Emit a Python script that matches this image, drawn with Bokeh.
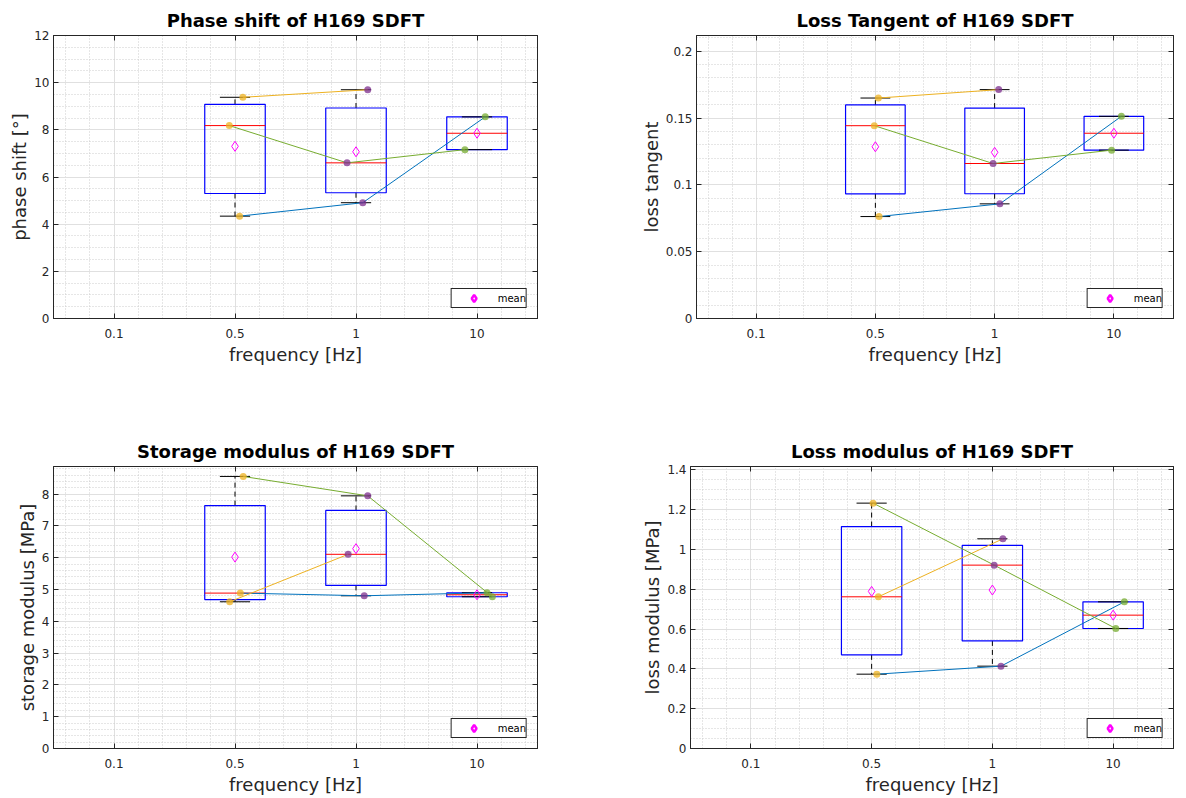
import numpy as np
from bokeh.plotting import figure
from bokeh.layouts import column, row
from bokeh.models import (FixedTicker, LinearAxis, Range1d, Legend, LegendItem,
                          CustomJSTickFormatter, ColumnDataSource)
from bokeh.embed import file_html
from bokeh.resources import INLINE

NAN = float("nan")

# ---------------- data ----------------
freq_labels = ["0.1", "0.5", "1", "10"]
freq_pos = [1, 2, 3, 4]

# specimens A (blue line), B (yellow line), C (green line); value per frequency
phase_A = [NAN, 4.34, 4.91, 8.55]
phase_B = [NAN, 9.38, 9.70, NAN]
phase_C = [NAN, 8.18, 6.60, 7.16]
phase_jit_A = [0, 0.038, 0.056, 0.068]
phase_jit_B = [0, 0.065, 0.097, 0]
phase_jit_C = [0, -0.047, -0.074, -0.100]

tand_A = [NAN, 0.0763, 0.0858, 0.1513]
tand_B = [NAN, 0.1650, 0.1713, NAN]
tand_C = [NAN, 0.1443, 0.1160, 0.1260]
tand_jit_A = [0, 0.031, 0.044, 0.063]
tand_jit_B = [0, 0.025, 0.034, 0]
tand_jit_C = [0, -0.009, -0.013, -0.019]

stor_A = [NAN, 4.888, 4.804, 4.899]
stor_B = [NAN, 4.615, 6.108, NAN]
stor_C = [NAN, 8.557, 7.947, 4.773]
stor_jit_A = [0, 0.044, 0.068, 0.083]
stor_jit_B = [0, -0.044, -0.065, 0]
stor_jit_C = [0, 0.068, 0.097, 0.127]

loss_A = [NAN, 0.3734, 0.4136, 0.7368]
loss_B = [NAN, 0.7620, 1.0534, NAN]
loss_C = [NAN, 1.2326, 0.9211, 0.6029]
loss_jit_A = [0, 0.043, 0.071, 0.093]
loss_jit_B = [0, 0.056, 0.087, 0]
loss_jit_C = [0, 0.012, 0.015, 0.022]

# ---------------- styles ----------------
FONT = "DejaVu Sans"
AX = "#262626"
LINE_COLORS = ["#0072BD", "#EDB120", "#77AC30"]      # A, B, C
POINT_COLORS = [None, "#EDB120", "#7E2F8E", "#77AC30"]  # per frequency
BOX_HALF = 0.25
CAP_HALF = 0.125


def prctile(v, p):
    n = len(v)
    pos = [(i + 0.5) / n * 100 for i in range(n)]
    if p <= pos[0]:
        return v[0]
    if p >= pos[-1]:
        return v[-1]
    for i in range(n - 1):
        if pos[i] <= p <= pos[i + 1]:
            return v[i] + (p - pos[i]) / (pos[i + 1] - pos[i]) * (v[i + 1] - v[i])


def make_panel(title, ylabel, series, jitters, y_end, y_major, y_minor,
               mb_left, mb_right, mb_top, mb_bottom):
    p = figure(width=593, height=399, output_backend="svg", toolbar_location=None,
               x_range=Range1d(0.5, 4.5), y_range=Range1d(0, y_end),
               min_border_left=mb_left, min_border_right=mb_right,
               min_border_top=mb_top, min_border_bottom=mb_bottom)
    p.background_fill_color = "white"
    p.border_fill_color = "white"
    p.outline_line_color = AX
    p.outline_line_width = 1
    p.outline_line_alpha = 1

    p.title.text = title
    p.title.text_font = FONT
    p.title.text_font_size = "18px"
    p.title.text_font_style = "bold"
    p.title.text_color = "black"
    p.title.align = "center"
    p.title.standoff = 9

    x_minor = [round(k * 0.2, 1) for k in range(3, 23) if k % 5 != 0]
    xt = FixedTicker(ticks=freq_pos, minor_ticks=x_minor)
    yt = FixedTicker(ticks=y_major, minor_ticks=y_minor)

    for ax in (p.xaxis[0], p.yaxis[0]):
        ax.major_tick_in = 5
        ax.major_tick_out = 0
        ax.minor_tick_in = 0
        ax.minor_tick_out = 0
        ax.axis_line_color = AX
        ax.major_tick_line_color = AX
        ax.major_label_text_font = FONT
        ax.major_label_text_font_size = "12px"
        ax.major_label_text_color = AX
        ax.axis_label_text_font = FONT
        ax.axis_label_text_font_size = "18px"
        ax.axis_label_text_font_style = "normal"
        ax.axis_label_text_color = AX
    p.xaxis[0].major_label_standoff = 10
    p.xaxis[0].axis_label_standoff = 3
    p.yaxis[0].major_label_standoff = 4
    p.yaxis[0].axis_label_standoff = 1
    p.xaxis[0].ticker = xt
    p.yaxis[0].ticker = yt
    p.xaxis[0].major_label_overrides = {pos: lab for pos, lab in zip(freq_pos, freq_labels)}
    p.yaxis[0].formatter = CustomJSTickFormatter(code="return String(parseFloat(tick.toFixed(4)))")
    p.xaxis[0].axis_label = "frequency [Hz]"
    p.yaxis[0].axis_label = ylabel

    # mirrored tick axes (top / right)
    blank = CustomJSTickFormatter(code="return ''")
    for ticker, side in ((xt, "above"), (yt, "right")):
        a = LinearAxis(ticker=ticker, formatter=blank, major_tick_in=5, major_tick_out=0,
                       minor_tick_in=0, minor_tick_out=0, major_label_standoff=0,
                       major_label_text_font_size="0px", axis_line_color=AX,
                       major_tick_line_color=AX)
        p.add_layout(a, side)

    for g in (p.xgrid[0], p.ygrid[0]):
        g.grid_line_color = "#e0e0e0"
        g.grid_line_width = 1
        g.minor_grid_line_color = "#cccccc"
        g.minor_grid_line_dash = "1 2"
        g.minor_grid_line_width = 1
    p.xgrid[0].ticker = xt
    p.ygrid[0].ticker = yt

    # ---- box statistics per frequency ----
    bx, q1s, meds, q3s, mins, maxs, means = [], [], [], [], [], [], []
    for i, pos in enumerate(freq_pos):
        vals = sorted(s[i] for s in series if not np.isnan(s[i]))
        if not vals:
            continue
        bx.append(pos)
        q1s.append(prctile(vals, 25))
        meds.append(prctile(vals, 50))
        q3s.append(prctile(vals, 75))
        mins.append(vals[0])
        maxs.append(vals[-1])
        means.append(sum(vals) / len(vals))
    bx = np.array(bx, dtype=float)

    # whiskers
    p.segment(x0=bx, x1=bx, y0=q3s, y1=maxs, line_color="black", line_dash="5 4", line_width=1)
    p.segment(x0=bx, x1=bx, y0=q1s, y1=mins, line_color="black", line_dash="5 4", line_width=1)
    # boxes
    p.quad(left=bx - BOX_HALF, right=bx + BOX_HALF, bottom=q1s, top=q3s,
           fill_color=None, line_color="#0000FF", line_width=1.2)
    # caps
    p.segment(x0=bx - CAP_HALF, x1=bx + CAP_HALF, y0=maxs, y1=maxs, line_color="black", line_width=1)
    p.segment(x0=bx - CAP_HALF, x1=bx + CAP_HALF, y0=mins, y1=mins, line_color="black", line_width=1)
    # medians
    p.segment(x0=bx - BOX_HALF, x1=bx + BOX_HALF, y0=meds, y1=meds, line_color="#FF0000", line_width=1)

    # specimen lines
    for s, j, c in zip(series, jitters, LINE_COLORS):
        xs = [pos + jj for pos, jj, v in zip(freq_pos, j, s) if not np.isnan(v)]
        ys = [v for v in s if not np.isnan(v)]
        p.line(xs, ys, line_color=c, line_width=1)

    # points coloured by frequency
    for i, pos in enumerate(freq_pos):
        xs = [pos + j[i] for s, j in zip(series, jitters) if not np.isnan(s[i])]
        ys = [s[i] for s in series if not np.isnan(s[i])]
        if xs:
            p.scatter(xs, ys, size=7, fill_color=POINT_COLORS[i], fill_alpha=0.75, line_color=None)

    # means
    mean_src = ColumnDataSource(dict(x=bx, y=means))
    p.scatter("x", "y", source=mean_src, marker="diamond", size=10, fill_color=None,
              line_color="#FF00FF", line_width=1)

    # legend proxy: one undefined (NaN) point, so it only appears in the legend
    leg_r = p.scatter(x=[NAN], y=[NAN], marker="diamond", size=10, fill_color=None,
                      line_color="#FF00FF", line_width=2.5)
    legend = Legend(items=[LegendItem(label="mean", renderers=[leg_r])],
                    location="bottom_right", margin=10, padding=0, spacing=0,
                    glyph_width=44, glyph_height=18, label_height=18, label_standoff=2,
                    label_text_font=FONT, label_text_font_size="10px", label_text_color="black",
                    border_line_color=AX, border_line_width=1, border_line_alpha=1,
                    background_fill_color="white", background_fill_alpha=1)
    p.add_layout(legend)
    return p


p1 = make_panel("Phase shift of H169 SDFT", "phase shift [°]",
                [phase_A, phase_B, phase_C], [phase_jit_A, phase_jit_B, phase_jit_C],
                12, [0, 2, 4, 6, 8, 10, 12], [k * 0.5 for k in range(25) if k % 4],
                53, 56, 35, 81)
p2 = make_panel("Loss Tangent of H169 SDFT", "loss tangent",
                [tand_A, tand_B, tand_C], [tand_jit_A, tand_jit_B, tand_jit_C],
                0.2118, [0, 0.05, 0.1, 0.15, 0.2], [round(k * 0.01, 2) for k in range(22) if k % 5],
                103, 13, 35, 81)
p3 = make_panel("Storage modulus of H169 SDFT", "storage modulus [MPa]",
                [stor_A, stor_B, stor_C], [stor_jit_A, stor_jit_B, stor_jit_C],
                8.87, [0, 1, 2, 3, 4, 5, 6, 7, 8], [round(k * 0.2, 1) for k in range(45) if k % 5],
                53, 56, 67, 50)
p4 = make_panel("Loss modulus of H169 SDFT", "loss modulus [MPa]",
                [loss_A, loss_B, loss_C], [loss_jit_A, loss_jit_B, loss_jit_C],
                1.4166, [0, 0.2, 0.4, 0.6, 0.8, 1.0, 1.2, 1.4], [round(k * 0.05, 2) for k in range(29) if k % 4],
                97, 13, 67, 50)

layout = column(row(p1, p2), row(p3, p4))
open("out.html", "w").write(file_html(layout, INLINE))
